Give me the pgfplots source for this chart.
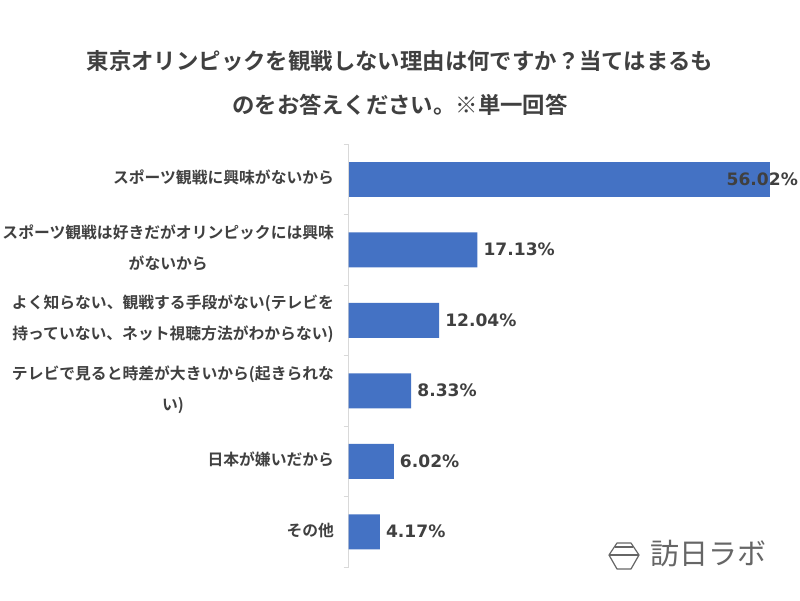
\documentclass[border=0pt]{standalone}
\usepackage{fontspec}
\usepackage{pgfplots}
\pgfplotsset{compat=1.18}
\setmainfont{Noto Sans CJK JP}[BoldFont={Noto Sans CJK JP Bold}]
\newfontfamily\numfont{DejaVu Sans}[BoldFont={DejaVu Sans Bold}]
\newfontfamily\logofont{Noto Sans CJK JP}
\definecolor{txt}{HTML}{404040}
\definecolor{barblue}{HTML}{4472C4}
\definecolor{axisgrey}{HTML}{D9D9D9}
\definecolor{logogrey}{HTML}{666666}
\begin{document}
\begin{tikzpicture}[x=1pt,y=1pt]
\useasboundingbox (0,0) rectangle (800,600);
\fill[white] (0,0) rectangle (800,600);
\node[text=txt,font=\fontsize{22.4}{22.4}\selectfont\bfseries,anchor=center] at (400,539) {東京オリンピックを観戦しない理由は何ですか？当てはまるも};
\node[text=txt,font=\fontsize{22.4}{22.4}\selectfont\bfseries,anchor=center] at (400,495) {のをお答えください。※単一回答};
\begin{axis}[
  at={(348.5pt,33pt)},anchor=south west,
  scale only axis,width=451.4pt,height=423pt,
  xmin=0,xmax=60,
  ymin=-0.5,ymax=5.5,y dir=reverse,
  hide x axis,
  axis y line*=left,
  axis line style={axisgrey,-,line width=0.8pt},
  ytick={0,1,2,3,4,5},
  yticklabels={
    スポーツ観戦に興味がないから,
    {スポーツ観戦は好きだがオリンピックには興味\\がないから},
    {よく知らない、観戦する手段がない(テレビを\\持っていない、ネット視聴方法がわからない)},
    {テレビで見ると時差が大きいから(起きられな\\い)},
    日本が嫌いだから,
    その他},
  major tick length=0pt,
  minor ytick={-0.5,0.5,1.5,2.5,3.5,4.5,5.5},
  minor tick length=5pt,
  tick align=outside,
  minor tick style={axisgrey,line width=0.8pt},
  yticklabel style={text=txt,font=\fontsize{15.8}{31}\selectfont\bfseries,align=center,anchor=east,xshift=-11pt,yshift=1.5pt},
  clip=false,
  xbar,bar width=35pt,bar shift=0pt,
  nodes near coords={\pgfmathprintnumber[fixed,fixed zerofill,precision=2,assume math mode=true]{\pgfplotspointmeta}\%},
  nodes near coords style={text=txt,font=\fontsize{17.1}{17.1}\selectfont\numfont\bfseries,anchor=west,inner sep=0pt,xshift=6pt},
  point meta=x,
]
\addplot[fill=barblue,draw=none] coordinates {(17.13,1) (12.04,2) (8.33,3) (6.02,4) (4.17,5)};
\addplot[fill=barblue,draw=none,nodes near coords style={xshift=-49.5pt}] coordinates {(56.02,0)};
\end{axis}
\draw[logogrey,line width=1.2pt,line join=round] (609,45)--(617,57)--(631,57)--(639,45)--(631,31)--(617,31)--cycle;
\draw[logogrey,line width=1.2pt] (609,45)--(639,45);
\draw[logogrey,line width=1.2pt] (615,53)--(633,53);
\node[text=logogrey,font=\fontsize{29}{29}\logofont,anchor=west,inner sep=0pt] at (650,46) {訪日ラボ};
\end{tikzpicture}
\end{document}
